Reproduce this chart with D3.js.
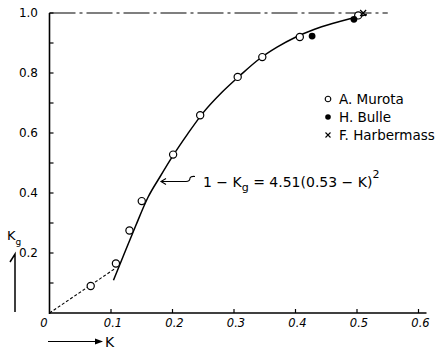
<!DOCTYPE html>
<html>
<head>
<meta charset="utf-8">
<script src="https://cdn.jsdelivr.net/npm/d3@7"></script>
<style>
  body { margin: 0; background: #fff; }
  svg { display: block; font-family: "DejaVu Sans", sans-serif; }
</style>
</head>
<body>
<svg id="chart" width="445" height="352"></svg>
<script>
// A. Murota (open circles)
const murotaK  = [0.067, 0.108, 0.130, 0.150, 0.201, 0.245, 0.306, 0.346, 0.407, 0.502];
const murotaKg = [0.090, 0.165, 0.275, 0.373, 0.528, 0.659, 0.787, 0.853, 0.920, 0.992];
// H. Bulle (filled circles)
const bulleK  = [0.427, 0.495];
const bulleKg = [0.923, 0.979];
// F. Harbermass (cross)
const harbK  = [0.510];
const harbKg = [1.000];
// fitted curve 1-Kg = 4.51(0.53-K)^2
const curveK  = [0.104, 0.120, 0.140, 0.160, 0.180, 0.200, 0.225, 0.250, 0.280, 0.310, 0.340, 0.370, 0.400, 0.430, 0.460, 0.490, 0.516];
const curveKg = [0.109, 0.190, 0.290, 0.385, 0.455, 0.522, 0.598, 0.668, 0.735, 0.792, 0.845, 0.886, 0.919, 0.945, 0.965, 0.982, 0.995];
// dashed extension to the origin, and the Kg = 1 limit line
const lowK  = [0, 0.1065];
const lowKg = [0, 0.148];
const limitK  = [0, 0.55];
const limitKg = [1, 1];

const xTicks = [0.1, 0.2, 0.3, 0.4, 0.5, 0.6];
const yMajor = [0.2, 0.4, 0.6, 0.8, 1.0];
const yMinor = [0.1, 0.3, 0.5, 0.7, 0.9];

const legend = [
  { name: "A. Murota", kind: "open" },
  { name: "H. Bulle", kind: "filled" },
  { name: "F. Harbermass", kind: "cross" }
];

const svg = d3.select("#chart");

let x = d3.scaleLinear().domain([0, 0.6]).range([49.5, 418.5]);
let y = d3.scaleLinear().domain([0, 1]).range([313, 13]);

const zip = (a, b) => a.map((v, i) => [v, b[i]]);
const line = d3.line().x(d => x(d[0])).y(d => y(d[1]));

// axes
svg.append("line")
  .attr("x1", x(0)).attr("x2", x(0.613))
  .attr("y1", y(0)).attr("y2", y(0))
  .attr("stroke", "#000").attr("stroke-width", 1.6);
svg.append("line")
  .attr("x1", x(0)).attr("x2", x(0))
  .attr("y1", y(0) + 1).attr("y2", y(1))
  .attr("stroke", "#000").attr("stroke-width", 1.6);

svg.append("g")
  .selectAll("line")
  .data(xTicks)
  .enter()
  .append("line")
  .attr("x1", d => x(d)).attr("x2", d => x(d))
  .attr("y1", y(0)).attr("y2", y(0) - 4)
  .attr("stroke", "#000").attr("stroke-width", 1.2);

svg.append("g")
  .selectAll("line")
  .data(yMajor.concat(yMinor))
  .enter()
  .append("line")
  .attr("x1", x(0)).attr("x2", x(0) + 4)
  .attr("y1", d => y(d)).attr("y2", d => y(d))
  .attr("stroke", "#000").attr("stroke-width", 1.2);

// tick labels
svg.append("g")
  .selectAll("text")
  .data(xTicks)
  .enter()
  .append("text")
  .attr("x", d => x(d) + 2)
  .attr("y", y(0) + 14)
  .attr("text-anchor", "middle")
  .attr("font-size", 11.5)
  .attr("font-style", "italic")
  .text(d => d3.format(".1f")(d));

svg.append("text")
  .attr("x", 44).attr("y", y(0) + 14)
  .attr("text-anchor", "middle")
  .attr("font-size", 11.5)
  .attr("font-style", "italic")
  .text("0");

svg.append("g")
  .selectAll("text")
  .data(yMajor)
  .enter()
  .append("text")
  .attr("x", 38)
  .attr("y", d => y(d) + 4)
  .attr("text-anchor", "end")
  .attr("font-size", 12)
  .text(d => d3.format(".1f")(d));

// Kg = 1 limit line
svg.append("path")
  .attr("d", line(zip(limitK, limitKg)))
  .attr("fill", "none")
  .attr("stroke", "#000").attr("stroke-width", 1.2)
  .attr("stroke-dasharray", "26,4,3,4");

// dashed lower part
svg.append("path")
  .attr("d", line(zip(lowK, lowKg)))
  .attr("fill", "none")
  .attr("stroke", "#000").attr("stroke-width", 1.1)
  .attr("stroke-dasharray", "3,2");

// fitted curve
svg.append("path")
  .attr("d", d3.line().x(d => x(d[0])).y(d => y(d[1])).curve(d3.curveMonotoneX)(zip(curveK, curveKg)))
  .attr("fill", "none")
  .attr("stroke", "#000").attr("stroke-width", 1.5);

// points
svg.append("g")
  .selectAll("circle")
  .data(zip(murotaK, murotaKg))
  .enter()
  .append("circle")
  .attr("cx", d => x(d[0])).attr("cy", d => y(d[1]))
  .attr("r", 3.6)
  .attr("fill", "#fff").attr("stroke", "#000").attr("stroke-width", 1.2);

svg.append("g")
  .selectAll("circle")
  .data(zip(bulleK, bulleKg))
  .enter()
  .append("circle")
  .attr("cx", d => x(d[0])).attr("cy", d => y(d[1]))
  .attr("r", 3.4)
  .attr("fill", "#000");

svg.append("g")
  .selectAll("path")
  .data(zip(harbK, harbKg))
  .enter()
  .append("path")
  .attr("transform", d => `translate(${x(d[0])}, ${y(d[1])})`)
  .attr("d", "M-3,-3L3,3M-3,3L3,-3")
  .attr("stroke", "#000").attr("stroke-width", 1.2);

// legend
const lg = svg.append("g")
  .selectAll("g")
  .data(legend)
  .enter()
  .append("g")
  .attr("transform", (d, i) => `translate(328, ${99 + i * 18})`);

lg.filter(d => d.kind === "open").append("circle")
  .attr("r", 2.8).attr("fill", "#fff").attr("stroke", "#000").attr("stroke-width", 1.1);
lg.filter(d => d.kind === "filled").append("circle")
  .attr("r", 2.8).attr("fill", "#000");
lg.filter(d => d.kind === "cross").append("path")
  .attr("d", "M-2.5,-2.5L2.5,2.5M-2.5,2.5L2.5,-2.5")
  .attr("stroke", "#000").attr("stroke-width", 1.1);

lg.append("text")
  .attr("x", 11).attr("y", 5)
  .attr("font-size", 13.5)
  .text(d => d.name);

// formula label and leader
svg.append("path")
  .attr("d", "M162,181.5 L186,181.5 Q190,181.5 190,178 Q191,176 195,176.5")
  .attr("fill", "none").attr("stroke", "#000").attr("stroke-width", 1.1);
svg.append("path")
  .attr("d", "M166,178.5 L161,181.5 L166,184.5")
  .attr("fill", "none").attr("stroke", "#000").attr("stroke-width", 1.1);

const f = svg.append("text")
  .attr("x", 203).attr("y", 187)
  .attr("font-size", 14);
f.append("tspan").text("1 − K");
f.append("tspan").attr("dy", 4).attr("font-size", 11).text("g");
f.append("tspan").attr("dy", -4).text(" = 4.51(0.53 − K)");
f.append("tspan").attr("dy", -9).attr("font-size", 11).text("2");

// axis titles
svg.append("text")
  .attr("x", 7).attr("y", 240)
  .attr("font-size", 13)
  .text("K")
  .append("tspan").attr("dy", 5).attr("font-size", 9).text("g");
svg.append("path")
  .attr("d", "M15,312 L15,254 L10,262")
  .attr("fill", "none").attr("stroke", "#000").attr("stroke-width", 1.5);

svg.append("path")
  .attr("d", "M48,341.5 L102,341.5")
  .attr("fill", "none").attr("stroke", "#000").attr("stroke-width", 1.1);
svg.append("path")
  .attr("d", "M95,338.5 L103,341.5 L95,344.5 Z")
  .attr("fill", "#000");
svg.append("text")
  .attr("x", 105).attr("y", 347)
  .attr("font-size", 14)
  .text("K");
</script>
</body>
</html>
